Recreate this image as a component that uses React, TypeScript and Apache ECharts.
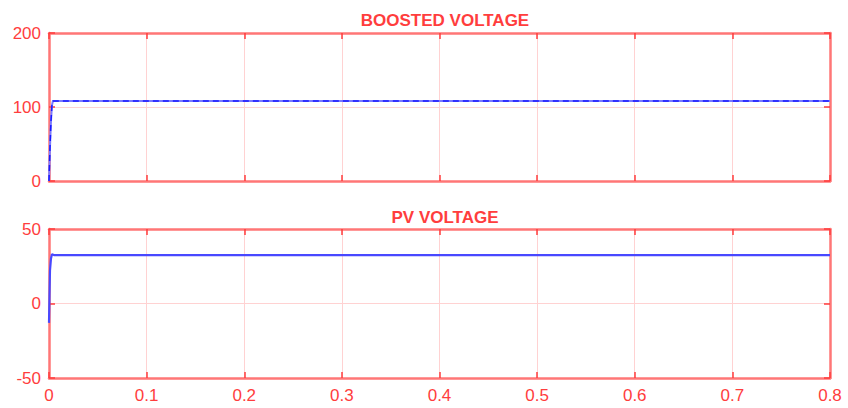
import React, { useEffect, useRef } from "react";
import * as echarts from "echarts";

const timeBoost = [0, 0.001, 0.002, 0.003, 0.004, 0.8];
const boostValues = [0, 45, 80, 102, 108, 108];
const timePv = [0, 0.0005, 0.001, 0.002, 0.003, 0.005, 0.8];
const pvValues = [-13, 5, 22, 30, 33, 32.5, 32.5];
const xTicks = [0, 0.1, 0.2, 0.3, 0.4, 0.5, 0.6, 0.7, 0.8];
const titles = ["BOOSTED VOLTAGE", "PV VOLTAGE"];

const RED = "#ff3d3d";
const FRAME = "#ff7676";
const GRIDLINE = "#ffd2d2";
const FONT = "Liberation Sans";

export default function App() {
  const ref = useRef<HTMLDivElement>(null);
  useEffect(() => {
    const chart = echarts.init(ref.current!, null, { renderer: "svg" });
    const grids = [
      { left: 49, top: 33, width: 781, height: 148 },
      { left: 49, top: 229, width: 781, height: 149 },
    ];
    const mkX = (gi: number, pos: "bottom" | "top", labels: boolean) => ({
      type: "value",
      gridIndex: gi,
      position: pos,
      min: xTicks[0],
      max: xTicks[xTicks.length - 1],
      interval: 0.1,
      axisLine: { show: true, onZero: false, lineStyle: { color: FRAME, width: 2.5 } },
      axisTick: { show: true, inside: true, length: 6, lineStyle: { color: RED, width: 1.5 } },
      splitLine: { show: pos === "bottom", lineStyle: { color: GRIDLINE, width: 1 } },
      axisLabel: {
        show: labels,
        color: RED,
        fontSize: 17,
        fontFamily: FONT,
        margin: 9,
        formatter: (v: number) => String(+v.toFixed(1)),
      },
    });
    const mkY = (gi: number, pos: "left" | "right", min: number, max: number, interval: number, labels: boolean) => ({
      type: "value",
      gridIndex: gi,
      position: pos,
      min,
      max,
      interval,
      axisLine: { show: true, onZero: false, lineStyle: { color: FRAME, width: 2.5 } },
      axisTick: { show: true, inside: true, length: 6, lineStyle: { color: RED, width: 1.5 } },
      splitLine: { show: pos === "left", lineStyle: { color: GRIDLINE, width: 1 } },
      axisLabel: { show: labels, color: RED, fontSize: 17, fontFamily: FONT, margin: 8 },
    });
    const titleStyle = { color: RED, fontSize: 17, fontWeight: "bold", fontFamily: FONT };
    chart.setOption({
      animation: false,
      backgroundColor: "#ffffff",
      title: [
        { text: titles[0], left: 440, top: 7, textAlign: "center", textStyle: titleStyle },
        { text: titles[1], left: 440, top: 204, textAlign: "center", textStyle: titleStyle },
      ],
      grid: grids,
      xAxis: [mkX(0, "bottom", false), mkX(0, "top", false), mkX(1, "bottom", true), mkX(1, "top", false)],
      yAxis: [
        mkY(0, "left", 0, 200, 100, true),
        mkY(0, "right", 0, 200, 100, false),
        mkY(1, "left", -50, 50, 50, true),
        mkY(1, "right", -50, 50, 50, false),
      ],
      series: [
        {
          type: "line",
          xAxisIndex: 0,
          yAxisIndex: 0,
          data: timeBoost.map((t, i) => [t, boostValues[i]]),
          showSymbol: false,
          lineStyle: { color: "#7a7aff", width: 2 },
        },
        {
          type: "line",
          xAxisIndex: 0,
          yAxisIndex: 0,
          data: timeBoost.map((t, i) => [t, boostValues[i]]),
          showSymbol: false,
          lineStyle: { color: "#1a1aff", width: 1.5, type: [6, 4] },
        },
        {
          type: "line",
          xAxisIndex: 2,
          yAxisIndex: 2,
          data: timePv.map((t, i) => [t, pvValues[i]]),
          showSymbol: false,
          lineStyle: { color: "#4848ff", width: 2.2 },
        },
      ],
    });
    return () => chart.dispose();
  }, []);
  return <div ref={ref} style={{ width: 848, height: 408, position: "absolute", left: 0, top: 0 }} />;
}
